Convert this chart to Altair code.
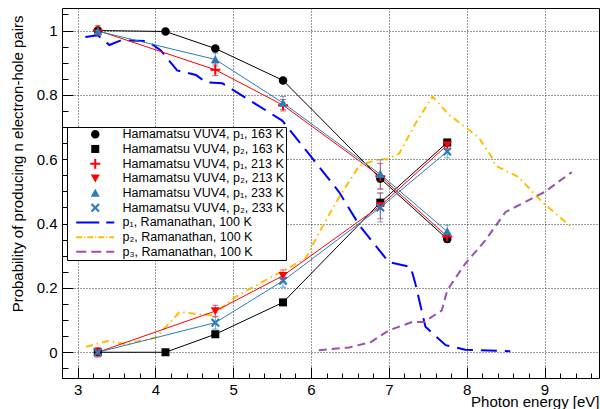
import altair as alt
import pandas as pd

# ---- Hamamatsu VUV4 measurements (photon energy in eV) ----
energy_163 = [3.26, 4.13, 4.77, 5.64, 6.89, 7.75]
p1_163 = [1.0, 0.997, 0.944, 0.845, 0.54, 0.352]
p2_163 = [0.0, 0.0, 0.056, 0.155, 0.465, 0.652]
err_163 = [0.004, 0.004, 0.006, 0.006, 0.01, 0.01]

energy_warm = [3.26, 4.77, 5.64, 6.89, 7.75]
p1_213 = [1.0, 0.878, 0.768, 0.547, 0.36]
p2_213 = [0.0, 0.128, 0.238, 0.455, 0.644]
err_213 = [0.015, 0.018, 0.018, 0.04, 0.012]
p1_233 = [0.998, 0.91, 0.775, 0.553, 0.375]
p2_233 = [0.0, 0.092, 0.222, 0.45, 0.624]
err_233 = [0.01, 0.02, 0.02, 0.045, 0.02]

# ---- Ramanathan, 100 K ----
ram_p1_e = [3.1, 3.26, 3.41, 3.56, 3.9, 4.07, 4.28, 4.52, 4.65, 4.86, 5.16, 5.63,
            5.97, 6.36, 6.62, 7.0, 7.28, 7.34, 7.47, 7.73, 7.98, 8.56]
ram_p1 = [0.98, 0.985, 0.955, 0.97, 0.967, 0.938, 0.876, 0.862, 0.839, 0.836, 0.791, 0.72,
          0.617, 0.498, 0.395, 0.28, 0.265, 0.214, 0.079, 0.022, 0.008, 0.003]
ram_p2_e = [3.11, 3.39, 3.62, 4.01, 4.31, 4.5, 4.73, 5.03, 5.33, 5.61, 5.93, 6.1, 6.36,
            6.62, 6.87, 6.98, 7.13, 7.34, 7.56, 7.77, 7.98, 8.15, 8.32, 8.37, 8.67, 8.97, 9.37]
ram_p2 = [0.017, 0.035, 0.025, 0.046, 0.125, 0.12, 0.115, 0.172, 0.213, 0.249, 0.291, 0.37, 0.482,
          0.58, 0.6, 0.6, 0.617, 0.71, 0.795, 0.739, 0.7, 0.669, 0.607, 0.58, 0.544, 0.467, 0.384]
ram_p3_e = [6.1, 6.49, 6.77, 7.0, 7.3, 7.45, 7.68, 7.75, 7.98, 8.24, 8.5, 8.75, 9.0, 9.35]
ram_p3 = [0.006, 0.015, 0.032, 0.068, 0.094, 0.094, 0.13, 0.193, 0.275, 0.348, 0.436, 0.467, 0.498, 0.56]

series = [
    "Hamamatsu VUV4, p\u2081, 163 K",
    "Hamamatsu VUV4, p\u2082, 163 K",
    "Hamamatsu VUV4, p\u2081, 213 K",
    "Hamamatsu VUV4, p\u2082, 213 K",
    "Hamamatsu VUV4, p\u2081, 233 K",
    "Hamamatsu VUV4, p\u2082, 233 K",
    "p\u2081, Ramanathan, 100 K",
    "p\u2082, Ramanathan, 100 K",
    "p\u2083, Ramanathan, 100 K",
]
colors = ["#000000", "#000000", "#ff0000", "#ff0000", "#2b7bba", "#2b7bba",
          "#0000ff", "#ffbf00", "#9b4fb0"]


# marker outlines (unit = half of the 10 px symbol box) and dashed legend strokes
def dashes(segments_px):
    u = 5.0
    return " ".join(f"M{a/u:.2f},-0.2H{b/u:.2f}V0.2H{a/u:.2f}Z" for a, b in segments_px)


shapes = [
    "M0.85,0A0.85,0.85,0,1,1,-0.85,0A0.85,0.85,0,1,1,0.85,0Z",
    "M-0.8,-0.8H0.8V0.8H-0.8Z",
    "M-0.2,-1H0.2V-0.2H1V0.2H0.2V1H-0.2V0.2H-1V-0.2H-0.2Z",
    "M-0.9,-0.75H0.9L0,0.85Z",
    "M-0.9,0.75H0.9L0,-0.85Z",
    "M-0.9,-0.6L-0.6,-0.9L0,-0.3L0.6,-0.9L0.9,-0.6L0.3,0L0.9,0.6L0.6,0.9L0,0.3L-0.6,0.9L-0.9,0.6L-0.3,0Z",
    dashes([(-19, 4), (11, 19)]),
    dashes([(-19, -13), (-11, -10), (-8, -2), (0, 1), (3, 9), (11, 12), (14, 19)]),
    dashes([(-19, -9), (-4, 6), (11, 19)]),
]

groups = [
    ("163 K", colors[0], [(series[0], energy_163, p1_163, err_163),
                          (series[1], energy_163, p2_163, err_163)]),
    ("213 K", colors[2], [(series[2], energy_warm, p1_213, err_213),
                          (series[3], energy_warm, p2_213, err_213)]),
    ("233 K", colors[4], [(series[4], energy_warm, p1_233, err_233),
                          (series[5], energy_warm, p2_233, err_233)]),
]

rows = []
for temp, _, members in groups:
    for name, xs, ys, es in members:
        for x, y, e in zip(xs, ys, es):
            rows.append({"energy": x, "prob": y, "lo": y - e, "hi": y + e,
                         "series": name, "temp": temp})
meas = pd.DataFrame(rows)

ram = pd.DataFrame(
    [{"energy": x, "prob": y, "series": series[6]} for x, y in zip(ram_p1_e, ram_p1)]
    + [{"energy": x, "prob": y, "series": series[7]} for x, y in zip(ram_p2_e, ram_p2)]
    + [{"energy": x, "prob": y, "series": series[8]} for x, y in zip(ram_p3_e, ram_p3)]
)

FONT = "Liberation Sans"
W, H = 537, 370
xscale = alt.Scale(domain=[2.8, 9.7], nice=False, zero=False)
yscale = alt.Scale(domain=[-0.08, 1.07], nice=False, zero=False)
cscale = alt.Scale(domain=series, range=colors)
sscale = alt.Scale(domain=series, range=shapes)

# tick positions: minor steps, majors every 1 eV / every 0.2
x_ticks = [round(2.8 + 0.2 * i, 2) for i in range(35)]
y_ticks = [round(-0.05 + 0.05 * i, 2) for i in range(23)]
X_MAJOR = "abs(datum.value - round(datum.value)) < 0.001"
Y_MAJOR = "abs(datum.value * 5 - round(datum.value * 5)) < 0.001"
TICK = 11  # major tick length; each axis is pulled inside the frame by this much


def frame_axis(orient, values, major_test, minor_len, **kw):
    # inward ticks: axis shifted into the plot, minor ticks keep only their outer part
    return alt.Axis(
        orient=orient, values=values, tickCount=100, offset=-TICK, tickSize=TICK, ticks=True,
        tickColor="black", tickWidth=1,
        tickDash={"condition": {"test": major_test, "value": [TICK, 0]},
                  "value": [0, TICK - minor_len, minor_len, 0]},
        domain=False, grid=True, gridDash=[1, 2], gridColor="#333333", gridWidth=1,
        gridOpacity={"condition": {"test": major_test, "value": 1}, "value": 0},
        labelExpr=f"({major_test}) ? format(datum.value, '~g') : ''",
        labelFont=FONT, labelFontSize=15, labelColor="black",
        labelFlush=False, labelOverlap=False,
        titleFont=FONT, titleFontSize=15, titleFontWeight="normal", titleColor="black",
        **kw,
    )


x_axis = frame_axis("bottom", x_ticks, X_MAJOR, 5, labelPadding=4,
                    title="Photon energy [eV]", titleX=W, titleY=TICK + 28,
                    titleAlign="right", titleBaseline="alphabetic")
y_axis = frame_axis("left", y_ticks, Y_MAJOR, 6, labelPadding=5,
                    title="Probability of producing n electron-hole pairs",
                    titleX=-45 - TICK, titleY=7, titleAngle=-90, titleAlign="right",
                    titleBaseline="middle")


def xenc():
    return alt.X("energy:Q", scale=xscale, axis=x_axis)


def yenc(field):
    return alt.Y(f"{field}:Q", scale=yscale, axis=y_axis)


def ram_line(idx, dash):
    return alt.Chart(ram[ram["series"] == series[idx]]).mark_line(
        strokeWidth=2, strokeDash=dash, color=colors[idx], clip=True
    ).encode(x=xenc(), y=yenc("prob"), order="energy:Q")


layers = [ram_line(6, [16, 8]), ram_line(7, [7, 4, 1.5, 4]), ram_line(8, [8, 5])]

# connecting lines and error bars, one colour per temperature
for temp, col, _ in groups:
    sub = alt.Chart(meas[meas["temp"] == temp]).encode(x=xenc())
    layers.append(sub.mark_line(strokeWidth=1, color=col).encode(
        y=yenc("prob"), detail="series:N", order="energy:Q"))
    layers.append(sub.mark_rule(strokeWidth=1, color=col, opacity=0.65).encode(
        y=yenc("lo"), y2="hi:Q"))
    for end in ["lo", "hi"]:
        layers.append(sub.mark_tick(size=6, thickness=1, orient="horizontal",
                                    color=col, opacity=0.65).encode(y=yenc(end)))

points = alt.Chart(meas).mark_point(filled=True, size=100, opacity=1, strokeWidth=0).encode(
    x=xenc(),
    y=yenc("prob"),
    color=alt.Color(
        "series:N", scale=cscale,
        legend=alt.Legend(
            title=None, orient="none", legendX=5, legendY=119, padding=1,
            strokeColor="black", fillColor="white", labelFont=FONT, labelFontSize=12.5,
            labelColor="black", labelLimit=400, symbolSize=100, symbolOffset=21,
            labelOffset=21, rowPadding=1.7, symbolStrokeWidth=0, symbolOpacity=1,
        ),
    ),
    shape=alt.Shape("series:N", scale=sscale),
)
layers.append(points)

chart = (
    alt.layer(*layers)
    .properties(
        width=W, height=H,
        autosize=alt.AutoSizeParams(type="none"),
        padding={"left": 62, "top": 8, "right": 1, "bottom": 31},
        background="white",
    )
    .configure_view(stroke="black", strokeWidth=1)
)

chart.save("out.html", embed_options={"renderer": "svg", "actions": False})
